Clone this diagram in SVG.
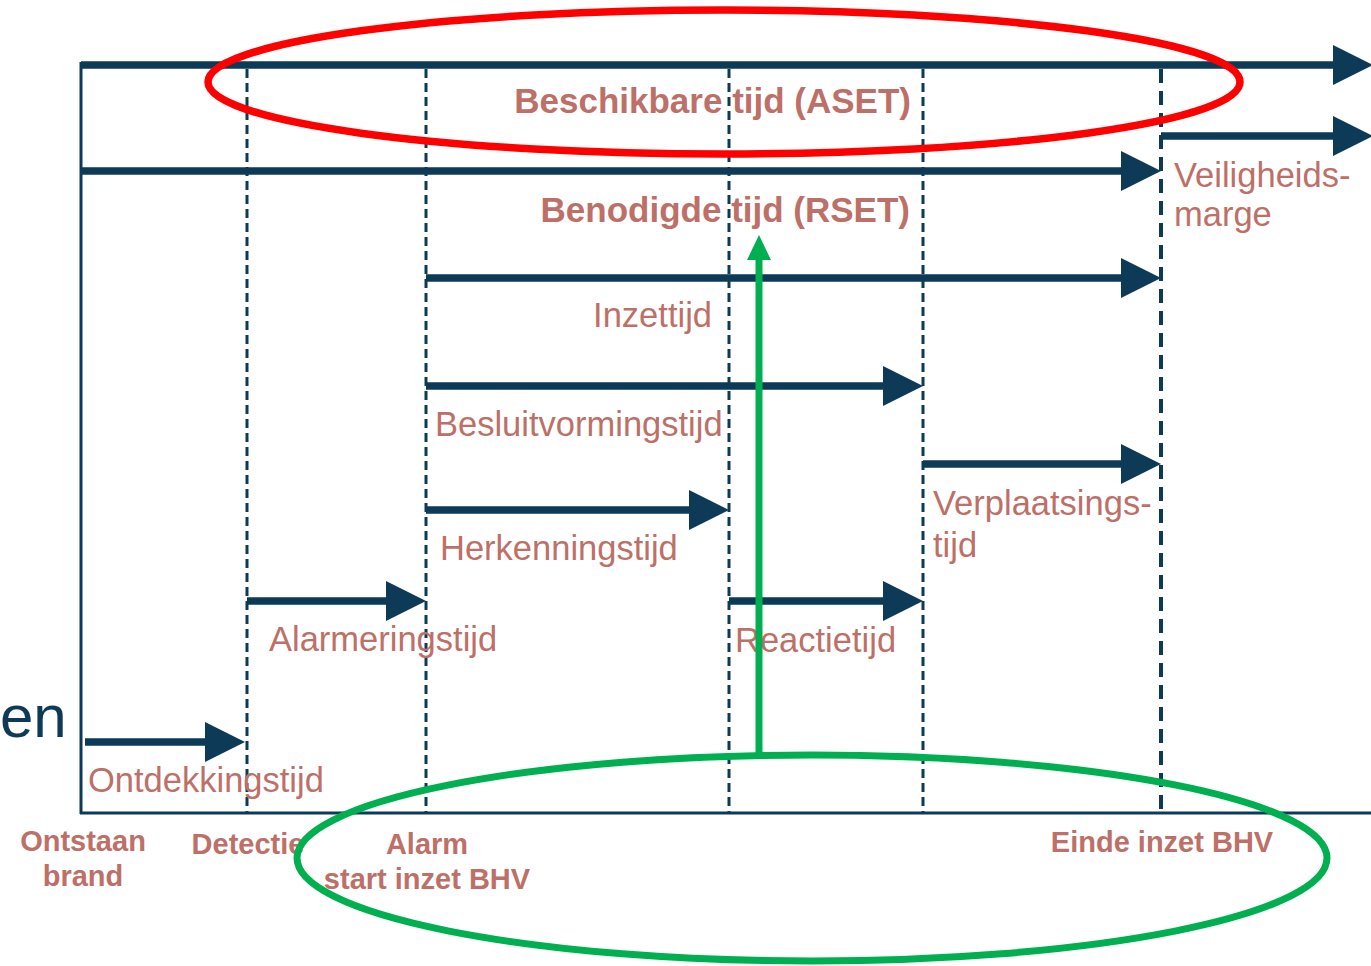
<svg xmlns="http://www.w3.org/2000/svg" width="1371" height="966" viewBox="0 0 1371 966">
<style>
.bg{fill:#ffffff}
.frame{stroke:#0d3a57;stroke-width:3;fill:none}
.dash{stroke:#0d3a57;stroke-width:3;stroke-dasharray:9 5;fill:none}
.dash2{stroke:#0d3a57;stroke-width:4;stroke-dasharray:14 8;fill:none}
.arr{stroke:#0d3a57;stroke-width:7.5;fill:none}
.lbl{font-family:"Liberation Sans",Arial,sans-serif;font-size:34.5px;fill:#bd7068}
.bold{font-weight:bold;font-size:35px}
.ms{font-family:"Liberation Sans",Arial,sans-serif;font-size:29px;font-weight:bold;fill:#bd7068;text-anchor:middle}
.title{font-family:"Liberation Sans",Arial,sans-serif;font-size:60px;fill:#0d3a57}
.red{stroke:#ff0000;stroke-width:7.5;fill:none}
.green{stroke:#00b050;stroke-width:7;fill:none}
</style>
<defs>
<marker id="head" markerUnits="userSpaceOnUse" viewBox="0 0 40 40" refX="12" refY="20" markerWidth="40" markerHeight="40" orient="auto">
<path d="M0,0 L40,20 L0,40 Z" fill="#0d3a57"/>
</marker>
<marker id="ghead" markerUnits="userSpaceOnUse" viewBox="0 0 25 24" refX="6" refY="12" markerWidth="25" markerHeight="24" orient="auto">
<path d="M0,0 L25,12 L0,24 Z" fill="#00b050"/>
</marker>
</defs>
<rect class="bg" x="0" y="0" width="1371" height="966"/>

<g id="slide-title">
<text class="title" x="0" y="737">en</text>
</g>

<g id="frame">
<line class="frame" x1="81" y1="62" x2="81" y2="814"/>
<line class="frame" x1="80" y1="813" x2="1371" y2="813"/>
</g>

<g id="milestones">
<line class="dash" x1="247" y1="69" x2="247" y2="812"/>
<line class="dash" x1="426" y1="69" x2="426" y2="812"/>
<line class="dash" x1="729" y1="69" x2="729" y2="812"/>
<line class="dash" x1="923" y1="69" x2="923" y2="812"/>
<line class="dash2" x1="1161" y1="69" x2="1161" y2="812"/>
</g>

<g id="connectors">
<line class="arr" x1="81" y1="65" x2="1345" y2="65" marker-end="url(#head)"/>
<line class="arr" x1="1161" y1="136" x2="1345" y2="136" marker-end="url(#head)"/>
<line class="arr" x1="81" y1="171" x2="1133" y2="171" marker-end="url(#head)"/>
<line class="arr" x1="426" y1="278" x2="1133" y2="278" marker-end="url(#head)"/>
<line class="arr" x1="426" y1="386" x2="895" y2="386" marker-end="url(#head)"/>
<line class="arr" x1="923" y1="464" x2="1133" y2="464" marker-end="url(#head)"/>
<line class="arr" x1="426" y1="510" x2="701" y2="510" marker-end="url(#head)"/>
<line class="arr" x1="729" y1="601" x2="895" y2="601" marker-end="url(#head)"/>
<line class="arr" x1="247" y1="601" x2="398" y2="601" marker-end="url(#head)"/>
<line class="arr" x1="85" y1="742" x2="217" y2="742" marker-end="url(#head)"/>
</g>

<g id="aset"><text class="lbl bold" x="911" y="113" text-anchor="end">Beschikbare tijd (ASET)</text></g>
<g id="rset"><text class="lbl bold" x="910" y="222" text-anchor="end">Benodigde tijd (RSET)</text></g>
<g id="veiligheidsmarge"><text class="lbl" x="1174" y="187">Veiligheids-</text><text class="lbl" x="1174" y="226">marge</text></g>
<g id="inzettijd"><text class="lbl" x="712" y="327" text-anchor="end">Inzettijd</text></g>
<g id="besluitvormingstijd"><text class="lbl" x="435" y="436">Besluitvormingstijd</text></g>
<g id="verplaatsingstijd"><text class="lbl" x="933" y="515">Verplaatsings-</text><text class="lbl" x="933" y="557">tijd</text></g>
<g id="herkenningstijd"><text class="lbl" x="440" y="560">Herkenningstijd</text></g>
<g id="reactietijd"><text class="lbl" x="735" y="652">Reactietijd</text></g>
<g id="alarmeringstijd"><text class="lbl" x="269" y="651">Alarmeringstijd</text></g>
<g id="ontdekkingstijd"><text class="lbl" x="88" y="792">Ontdekkingstijd</text></g>

<g id="ontstaan-brand"><text class="ms" x="83" y="851">Ontstaan</text><text class="ms" x="83" y="886">brand</text></g>
<g id="detectie"><text class="ms" x="248" y="854">Detectie</text></g>
<g id="alarm"><text class="ms" x="427" y="854">Alarm</text><text class="ms" x="427" y="889">start inzet BHV</text></g>
<g id="einde-inzet"><text class="ms" x="1162" y="852">Einde inzet BHV</text></g>

<g id="highlights">
<ellipse class="red" cx="724" cy="82" rx="516" ry="72"/>
<ellipse class="green" cx="812" cy="858" rx="515" ry="103"/>
<line class="green" x1="759" y1="756" x2="759" y2="254" marker-end="url(#ghead)"/>
</g>
</svg>
